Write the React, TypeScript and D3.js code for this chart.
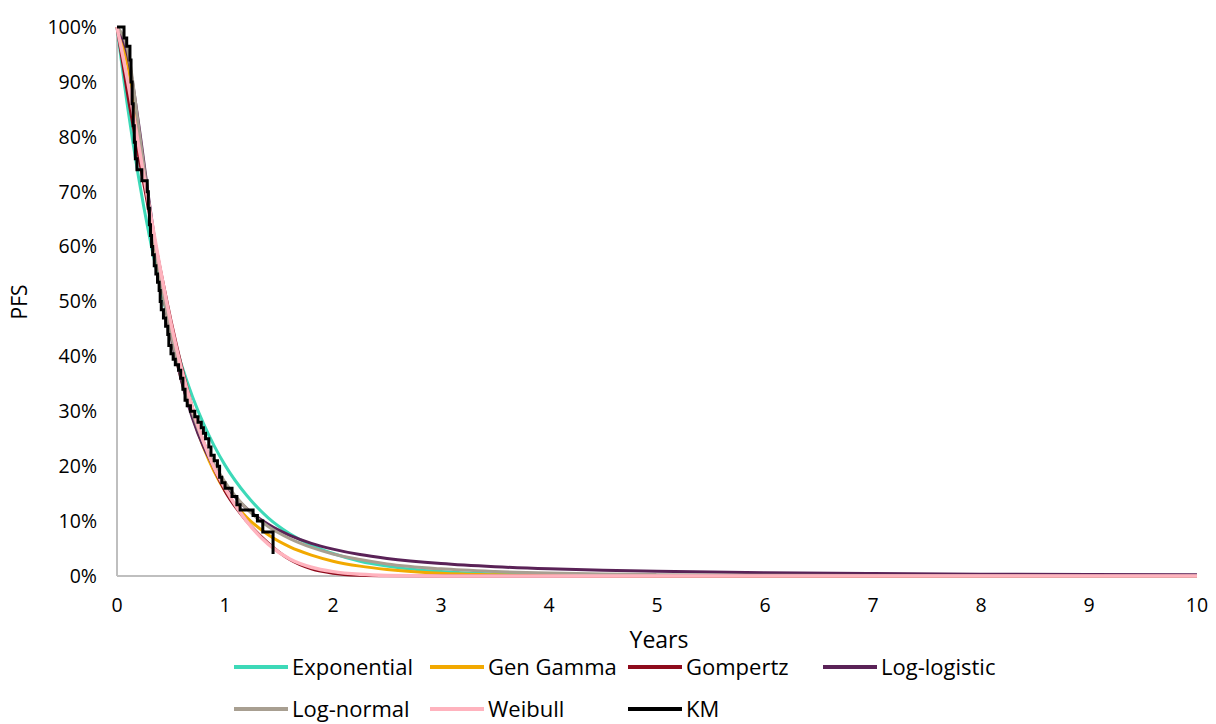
import React from "react";
import * as d3 from "d3";

// Time grid (years) for the fitted parametric curves
const times = [0, 0.1, 0.2, 0.3, 0.4, 0.5, 0.6, 0.7, 0.8, 0.9, 1.0, 1.2, 1.4, 1.6, 1.8, 2.0, 2.25, 2.5, 3, 3.5, 4, 4.5, 5, 6, 7, 8, 9, 10];

const exponential = [1, 0.852, 0.726, 0.619, 0.527, 0.449, 0.383, 0.326, 0.278, 0.237, 0.202, 0.147, 0.106, 0.077, 0.056, 0.041, 0.027, 0.018, 0.008, 0.0037, 0.0017, 0.0008, 0.0003, 0.0001, 0, 0, 0, 0];
const genGamma = [1, 0.93, 0.8, 0.668, 0.545, 0.44, 0.355, 0.29, 0.235, 0.19, 0.155, 0.107, 0.075, 0.053, 0.038, 0.027, 0.018, 0.012, 0.005, 0.0022, 0.001, 0.0005, 0.0002, 0, 0, 0, 0, 0];
const gompertz = [1, 0.875, 0.765, 0.66, 0.56, 0.465, 0.38, 0.305, 0.245, 0.195, 0.155, 0.1, 0.06, 0.03, 0.013, 0.005, 0.0013, 0.0003, 0, 0, 0, 0, 0, 0, 0, 0, 0, 0];
const logLogistic = [1, 0.948, 0.824, 0.679, 0.546, 0.438, 0.353, 0.287, 0.236, 0.198, 0.167, 0.123, 0.094, 0.074, 0.0595, 0.049, 0.039, 0.032, 0.0227, 0.0169, 0.013, 0.0104, 0.0085, 0.0059, 0.0044, 0.0034, 0.0027, 0.0022];
const logNormal = [1, 0.957, 0.819, 0.671, 0.544, 0.441, 0.36, 0.296, 0.244, 0.204, 0.171, 0.123, 0.09, 0.068, 0.052, 0.04, 0.03, 0.022, 0.013, 0.0082, 0.0054, 0.0036, 0.0025, 0.0013, 0.0007, 0.0004, 0.0002, 0.00015];
const weibull = [1, 0.9, 0.785, 0.67, 0.56, 0.46, 0.375, 0.305, 0.245, 0.197, 0.16, 0.1, 0.058, 0.031, 0.016, 0.008, 0.003, 0.001, 0.0001, 0, 0, 0, 0, 0, 0, 0, 0, 0];

// Kaplan-Meier step data
const kmTimes = [0, 0.065, 0.09, 0.12, 0.13, 0.14, 0.15, 0.16, 0.17, 0.185, 0.23, 0.28, 0.29, 0.3, 0.31, 0.32, 0.33, 0.345, 0.36, 0.375, 0.39, 0.4, 0.41, 0.43, 0.45, 0.47, 0.48, 0.5, 0.52, 0.54, 0.57, 0.59, 0.61, 0.63, 0.65, 0.68, 0.72, 0.75, 0.78, 0.8, 0.82, 0.85, 0.87, 0.9, 0.93, 0.95, 0.97, 1.0, 1.065, 1.11, 1.14, 1.26, 1.3, 1.35, 1.445];
const kmSurv = [1.0, 0.98, 0.965, 0.94, 0.9, 0.86, 0.82, 0.79, 0.76, 0.74, 0.72, 0.7, 0.67, 0.64, 0.62, 0.6, 0.585, 0.565, 0.55, 0.535, 0.52, 0.5, 0.485, 0.47, 0.455, 0.44, 0.42, 0.405, 0.395, 0.385, 0.375, 0.36, 0.34, 0.32, 0.31, 0.3, 0.29, 0.28, 0.27, 0.26, 0.25, 0.235, 0.22, 0.21, 0.2, 0.18, 0.17, 0.16, 0.145, 0.13, 0.12, 0.11, 0.1, 0.08, 0.04];

const xTicks = [0, 1, 2, 3, 4, 5, 6, 7, 8, 9, 10];
const yTicks = [0, 0.1, 0.2, 0.3, 0.4, 0.5, 0.6, 0.7, 0.8, 0.9, 1.0];

const seriesNames = ["Exponential", "Gen Gamma", "Gompertz", "Log-logistic", "Log-normal", "Weibull", "KM"];
const seriesColors = ["#3DD9B8", "#F2A900", "#8E0B1C", "#5A2257", "#A89F91", "#FFB3BE", "#000000"];
const curveValues = [exponential, genGamma, gompertz, logLogistic, logNormal, weibull];

const FONT = "'Open Sans', 'Noto Sans', sans-serif";

export default function App() {
  const W = 1216;
  const H = 724;
  const x = d3.scaleLinear().domain([0, 10]).range([117, 1197]);
  const y = d3.scaleLinear().domain([0, 1]).range([576, 27]);

  const smooth = d3
    .line<[number, number]>()
    .x((d) => x(d[0]))
    .y((d) => y(d[1]))
    .curve(d3.curveMonotoneX);
  const step = d3
    .line<[number, number]>()
    .x((d) => x(d[0]))
    .y((d) => y(d[1]))
    .curve(d3.curveStepAfter);

  const kmData: [number, number][] = kmTimes.map((t, i) => [t, kmSurv[i]]);

  const legendCols = [234, 430, 628, 823];
  const legendRows = [667, 709];
  const legendItems = [
    { i: 0, c: 0, r: 0 },
    { i: 1, c: 1, r: 0 },
    { i: 2, c: 2, r: 0 },
    { i: 3, c: 3, r: 0 },
    { i: 4, c: 0, r: 1 },
    { i: 5, c: 1, r: 1 },
    { i: 6, c: 2, r: 1 },
  ];

  return (
    <svg
      width={W}
      height={H}
      style={{ position: "absolute", left: 0, top: 0, background: "#fff" }}
      fontFamily={FONT}
    >
      <rect x={0} y={0} width={W} height={H} fill="#fff" />
      {/* axes */}
      <line x1={x(0)} x2={x(0)} y1={y(1)} y2={y(0)} stroke="#BFBFBF" strokeWidth={2} />
      <line x1={x(0)} x2={x(10)} y1={y(0)} y2={y(0)} stroke="#BFBFBF" strokeWidth={2} />

      {/* y tick labels */}
      {yTicks.map((v) => (
        <text key={"y" + v} x={97} y={y(v)} dy="0.35em" textAnchor="end" fontSize={19.5} fill="#000">
          {d3.format(".0%")(v)}
        </text>
      ))}
      {/* x tick labels */}
      {xTicks.map((v) => (
        <text key={"x" + v} x={x(v)} y={612} textAnchor="middle" fontSize={19.5} fill="#000">
          {v}
        </text>
      ))}

      {/* axis titles */}
      <text x={659} y={648} textAnchor="middle" fontSize={23} fill="#000">
        Years
      </text>
      <text
        transform={`translate(27,302) rotate(-90)`}
        textAnchor="middle"
        fontSize={21}
        fill="#000"
      >
        PFS
      </text>

      {/* fitted curves */}
      {curveValues.map((vals, i) => {
        const data: [number, number][] = times.map((t, j) => [t, vals[j]]);
        return (
          <path
            key={seriesNames[i]}
            d={smooth(data) || ""}
            fill="none"
            stroke={seriesColors[i]}
            strokeWidth={i === 5 ? 3.5 : 3}
            strokeLinejoin="round"
          />
        );
      })}
      {/* KM */}
      <path d={step(kmData) || ""} fill="none" stroke="#000" strokeWidth={3} strokeLinejoin="miter" />

      {/* legend */}
      {legendItems.map(({ i, c, r }) => (
        <g key={"lg" + i}>
          <line
            x1={legendCols[c]}
            x2={legendCols[c] + 54}
            y1={legendRows[r]}
            y2={legendRows[r]}
            stroke={seriesColors[i]}
            strokeWidth={4}
          />
          <text x={legendCols[c] + 58} y={legendRows[r]} dy="0.36em" fontSize={22} fill="#000">
            {seriesNames[i]}
          </text>
        </g>
      ))}
    </svg>
  );
}
